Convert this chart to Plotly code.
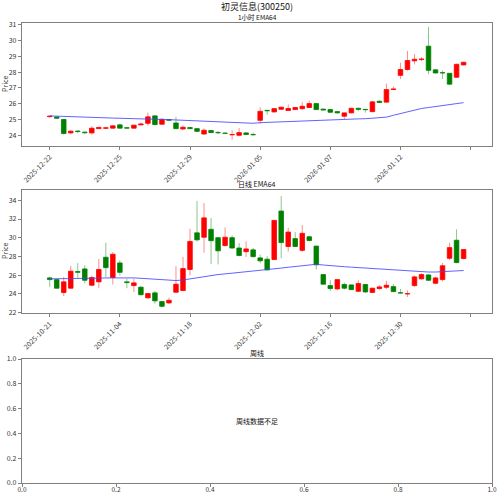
import plotly.graph_objects as go

# ---------------- data ----------------
h_open  = [25.18,25.16,25.00,24.15,24.27,24.20,24.15,24.42,24.44,24.45,
           24.66,24.48,24.45,24.66,24.76,25.23,24.70,25.00,24.78,24.40,
           24.49,24.42,24.08,24.30,24.18,24.14,24.03,24.00,24.15,24.05,
           24.95,25.58,25.48,25.65,25.57,25.63,25.69,25.76,26.01,25.66,
           25.63,25.50,25.21,25.42,25.71,25.64,25.50,26.16,26.10,26.90,
           27.80,28.17,28.72,28.80,29.65,28.15,27.97,27.93,27.68,28.46]
h_close = [25.22,25.08,24.11,24.26,24.24,24.16,24.45,24.50,24.48,24.60,
           24.45,24.45,24.64,24.72,25.17,24.68,25.02,24.95,24.42,24.51,
           24.42,24.25,24.32,24.17,24.16,24.12,24.05,24.17,24.05,24.03,
           25.52,25.55,25.69,25.78,25.70,25.76,25.84,26.01,25.63,25.60,
           25.46,25.42,25.42,25.71,25.64,25.62,26.12,26.08,26.90,26.94,
           28.17,28.74,28.82,28.84,28.12,27.95,27.95,27.24,28.50,28.63]
h_high  = [25.24,25.18,25.02,24.32,24.30,24.22,24.58,24.52,24.52,24.62,
           24.74,24.50,24.66,24.80,25.44,25.25,25.06,25.03,25.17,24.60,
           24.50,24.44,24.44,24.32,24.27,24.17,24.32,24.46,24.17,24.17,
           25.78,25.62,25.72,25.80,25.95,25.80,26.10,26.20,26.03,25.68,
           25.66,25.54,25.44,25.74,25.76,25.66,26.18,26.20,27.28,27.10,
           28.60,29.35,29.15,28.96,30.87,28.20,28.10,27.95,28.55,28.66]
h_low   = [25.12,25.06,24.05,24.06,24.12,24.08,24.04,24.40,24.38,24.43,
           24.43,24.43,24.43,24.64,24.60,24.62,24.66,24.90,24.40,24.32,
           24.40,24.23,24.02,24.15,24.06,24.08,23.72,23.94,24.03,23.98,
           24.72,25.30,25.45,25.60,25.55,25.60,25.60,25.74,25.60,25.58,
           25.40,25.38,25.00,25.40,25.52,25.44,25.45,26.06,26.08,26.88,
           27.56,28.10,28.50,28.70,27.87,27.93,27.56,27.20,27.64,28.44]
h_ema   = [25.23,25.21,25.20,25.18,25.17,25.15,25.14,25.12,25.11,25.09,
           25.08,25.06,25.05,25.04,25.02,25.01,25.00,24.99,24.97,24.96,
           24.94,24.92,24.90,24.88,24.86,24.84,24.82,24.80,24.78,24.76,
           24.80,24.82,24.84,24.86,24.88,24.90,24.92,24.94,24.96,24.98,
           24.99,25.00,25.01,25.03,25.04,25.05,25.07,25.10,25.15,25.27,
           25.38,25.50,25.60,25.70,25.76,25.82,25.88,25.94,26.00,26.07]
h_ticklabels = ["2025-12-22", "2025-12-25", "2025-12-29", "2026-01-05",
                "2026-01-07", "2026-01-12", ""]

d_open  = [25.70,25.52,24.14,24.60,26.38,26.66,24.92,25.28,27.91,25.74,
           27.30,25.28,24.88,24.71,23.57,24.10,23.17,23.03,24.17,24.35,
           26.60,30.52,30.05,30.90,30.00,29.16,30.00,28.90,28.50,28.70,
           27.84,27.70,27.66,32.85,29.06,29.90,28.65,30.10,29.10,26.06,
           24.88,24.52,25.00,24.95,24.27,25.00,24.15,24.56,24.70,24.77,
           24.12,23.98,24.88,25.60,26.02,25.13,25.52,27.80,29.73,27.77]
d_close = [25.52,24.60,25.28,26.42,26.30,25.45,25.74,26.60,26.80,28.23,
           26.30,25.20,25.17,23.90,24.03,23.25,22.67,23.31,25.03,26.70,
           29.60,29.77,32.12,29.68,28.60,30.05,28.90,28.10,28.80,27.98,
           27.53,26.56,31.85,29.48,30.60,29.06,30.47,29.70,27.10,25.03,
           24.56,25.52,24.60,24.45,25.10,24.20,24.60,24.74,24.92,24.24,
           24.08,24.02,25.81,26.06,25.45,25.70,27.00,28.94,27.34,28.74]
d_high  = [25.81,25.55,25.81,26.99,27.30,27.05,25.95,27.74,29.47,28.48,
           27.59,25.60,25.60,24.78,24.10,24.30,23.24,23.60,26.95,27.95,
           30.97,33.93,33.70,32.10,30.05,31.10,30.25,29.43,29.60,28.91,
           28.20,28.02,31.90,34.45,31.06,30.60,31.35,30.20,29.15,26.10,
           25.45,25.60,25.20,24.98,25.45,25.05,24.65,24.92,25.40,25.05,
           24.52,24.37,25.95,26.20,26.10,25.81,27.30,29.47,30.90,28.78]
d_low   = [24.74,24.55,23.75,24.55,25.70,25.10,24.81,24.60,25.81,24.99,
           25.95,24.60,24.20,23.85,23.50,22.95,22.53,22.92,24.10,24.30,
           25.99,29.60,28.40,27.20,27.15,29.06,28.80,28.00,27.94,27.84,
           27.27,26.49,27.62,27.80,28.52,29.00,28.50,29.60,26.60,24.99,
           24.30,24.45,24.45,24.40,24.20,24.10,24.10,24.45,24.50,24.17,
           24.05,23.66,24.74,25.52,25.38,25.02,25.35,27.60,27.27,27.70]
d_ema   = [25.60,25.60,25.60,25.62,25.64,25.66,25.66,25.68,25.70,25.72,
           25.73,25.72,25.70,25.66,25.60,25.54,25.48,25.44,25.42,25.48,
           25.60,25.75,25.88,25.98,26.06,26.13,26.20,26.27,26.35,26.42,
           26.50,26.58,26.66,26.75,26.84,26.93,27.02,27.10,27.16,27.08,
           27.00,26.95,26.90,26.85,26.80,26.74,26.68,26.62,26.57,26.52,
           26.47,26.42,26.38,26.35,26.33,26.33,26.36,26.40,26.45,26.49]
d_ticklabels = ["2025-10-21", "2025-11-04", "2025-11-18", "2025-12-02",
                "2025-12-16", "2025-12-30", ""]

main_title = "初灵信息(300250)"
sub_titles = ["1小时 EMA64", "日线 EMA64", "周线"]
weekly_msg = "周线数据不足"
unit_ticks = [0.0, 0.2, 0.4, 0.6, 0.8, 1.0]

# ---------------- styling ----------------
UP, DOWN = "#ff0000", "#008000"
UP_W, DOWN_W = "rgba(255,0,0,0.45)", "rgba(0,128,0,0.45)"
EMA_C = "rgba(70,70,255,0.85)"
FONT = "Noto Sans CJK SC, DejaVu Sans, sans-serif"
AX = "#808080"

W, H = 500, 496
ML, MR, MT, MB = 22, 8, 23, 13
PH = H - MT - MB


def py(px):
    return (H - MB - px) / PH


fig = go.Figure()


def add_candles(op, cl, hi, lo, ema, xa, ya):
    n = len(op)
    idx = list(range(n))
    for up, wc, bc in ((True, UP_W, UP), (False, DOWN_W, DOWN)):
        wx, wy = [], []
        bx, bb, bh = [], [], []
        for i in idx:
            is_up = cl[i] >= op[i]
            if is_up != up:
                continue
            wx += [i, i, None]
            wy += [lo[i], hi[i], None]
            bx.append(i)
            bb.append(min(op[i], cl[i]))
            bh.append(abs(cl[i] - op[i]))
        fig.add_trace(go.Scatter(x=wx, y=wy, mode="lines", xaxis=xa, yaxis=ya,
                                 line=dict(color=wc, width=1), showlegend=False,
                                 hoverinfo="skip"))
        fig.add_trace(go.Bar(x=bx, y=bh, base=bb, width=0.65, xaxis=xa, yaxis=ya,
                             marker=dict(color=bc, line=dict(color=bc, width=0.8)),
                             showlegend=False))
    fig.add_trace(go.Scatter(x=idx, y=ema, mode="lines", xaxis=xa, yaxis=ya,
                             line=dict(color=EMA_C, width=1), showlegend=False))


add_candles(h_open, h_close, h_high, h_low, h_ema, "x", "y")
add_candles(d_open, d_close, d_high, d_low, d_ema, "x2", "y2")
# empty weekly axes
fig.add_trace(go.Scatter(x=[None], y=[None], xaxis="x3", yaxis="y3",
                         showlegend=False))

tickfont = dict(family=FONT, size=7, color="#333333")
common = dict(showline=True, mirror=True, linecolor=AX, linewidth=1.3,
              ticks="outside", ticklen=3, tickcolor=AX, tickwidth=1,
              showgrid=False, zeroline=False, tickfont=tickfont,
              automargin=False)

dom1 = [py(146), py(23)]
dom2 = [py(313), py(190)]
dom3 = [py(483), py(359)]

fig.update_layout(
    width=W, height=H, margin=dict(l=ML, r=MR, t=MT, b=MB, autoexpand=False),
    paper_bgcolor="white", plot_bgcolor="white", barmode="overlay",
    font=dict(family=FONT), showlegend=False,
    xaxis=dict(domain=[0, 1], anchor="y", range=[-3.95, 63.05],
               tickvals=[0, 10, 20, 30, 40, 50, 60], ticktext=h_ticklabels,
               tickangle=-45, **common),
    yaxis=dict(domain=dom1, anchor="x", range=[23.32, 31.12], dtick=1, **common),
    xaxis2=dict(domain=[0, 1], anchor="y2", range=[-3.95, 63.05],
                tickvals=[0, 10, 20, 30, 40, 50, 60], ticktext=d_ticklabels,
                tickangle=-45, **common),
    yaxis2=dict(domain=dom2, anchor="x2", range=[21.95, 35.1], dtick=2, **common),
    xaxis3=dict(domain=[0, 1], anchor="y3", range=[0, 1], tickvals=unit_ticks,
                tickformat=".1f", ticklabelstandoff=-3,
                **{k: v for k, v in common.items()}),
    yaxis3=dict(domain=dom3, anchor="x3", range=[0, 1], tickvals=unit_ticks,
                tickformat=".1f", **common),
)
fig.update_xaxes(selector=dict(anchor="y3"), tickfont=dict(size=6.5))

ann = [
    dict(text=main_title, x=0.5, y=py(7), xref="paper", yref="paper",
         showarrow=False, font=dict(size=9, color="#111"), yanchor="middle"),
    dict(text=sub_titles[0], x=0.5, y=py(17), xref="paper", yref="paper",
         showarrow=False, font=dict(size=6.5, color="#111"), yanchor="middle"),
    dict(text=sub_titles[1], x=0.5, y=py(184), xref="paper", yref="paper",
         showarrow=False, font=dict(size=7, color="#111"), yanchor="middle"),
    dict(text=sub_titles[2], x=0.5, y=py(353), xref="paper", yref="paper",
         showarrow=False, font=dict(size=7, color="#111"), yanchor="middle"),
    dict(text=weekly_msg, x=0.5, y=0.5, xref="x3", yref="y3",
         showarrow=False, font=dict(size=7, color="#111")),
    dict(text="Price", x=0, y=py(84), xref="paper", yref="paper",
         xanchor="center", yanchor="middle", xshift=-(ML - 5),
         showarrow=False, textangle=-90, font=dict(size=7, color="#333")),
    dict(text="Price", x=0, y=py(251), xref="paper", yref="paper",
         xanchor="center", yanchor="middle", xshift=-(ML - 5),
         showarrow=False, textangle=-90, font=dict(size=7, color="#333")),
]
fig.update_layout(annotations=ann)

fig.write_html("out.html")
